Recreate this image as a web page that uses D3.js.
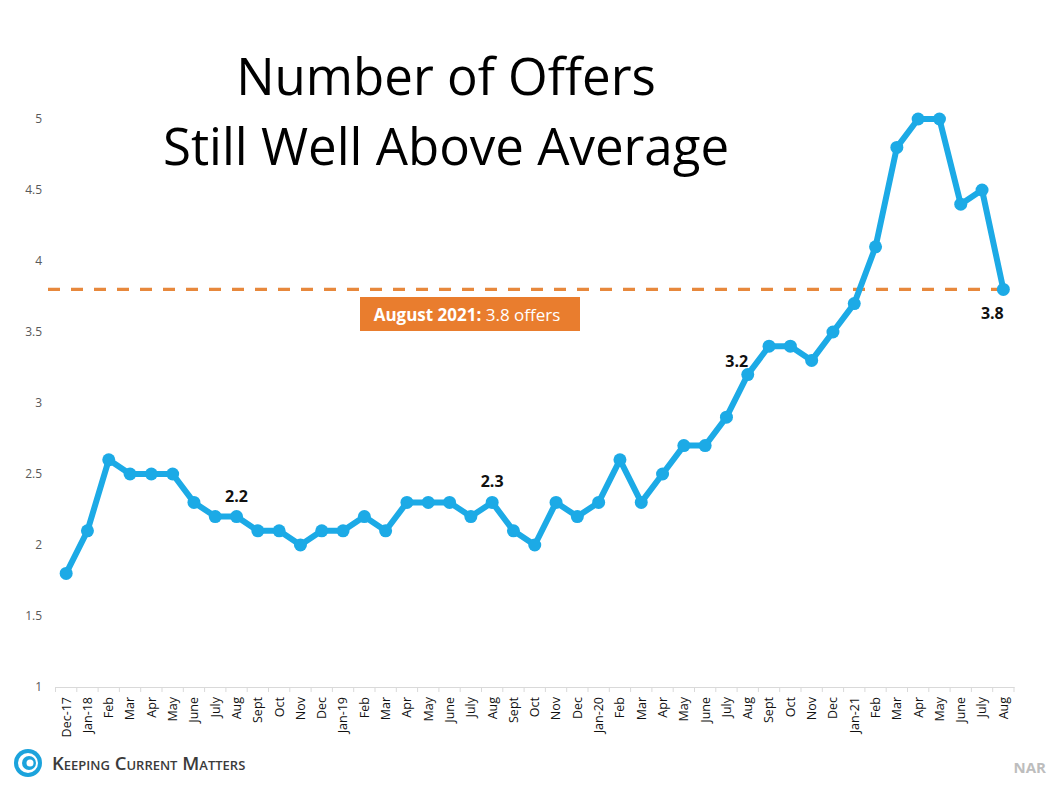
<!DOCTYPE html>
<html>
<head>
<meta charset="utf-8">
<script src="https://cdn.jsdelivr.net/npm/d3@7"></script>
<style>
  body{margin:0;background:#fff;}
  svg{display:block;}
</style>
</head>
<body>
<script>
// months, Dec 2017 through Aug 2021
const months=["Dec-17","Jan-18","Feb","Mar","Apr","May","June","July","Aug","Sept","Oct","Nov","Dec",
  "Jan-19","Feb","Mar","Apr","May","June","July","Aug","Sept","Oct","Nov","Dec",
  "Jan-20","Feb","Mar","Apr","May","June","July","Aug","Sept","Oct","Nov","Dec",
  "Jan-21","Feb","Mar","Apr","May","June","July","Aug"];
const offers=[1.8,2.1,2.6,2.5,2.5,2.5,2.3,2.2,2.2,2.1,2.1,2.0,2.1,
  2.1,2.2,2.1,2.3,2.3,2.3,2.2,2.3,2.1,2.0,2.3,2.2,
  2.3,2.6,2.3,2.5,2.7,2.7,2.9,3.2,3.4,3.4,3.3,3.5,
  3.7,4.1,4.8,5.0,5.0,4.4,4.5,3.8];
const yTicks=[1,1.5,2,2.5,3,3.5,4,4.5,5];
const labelled=[8,20,32,44];   // points that carry a value label
const currentValue=3.8;

const W=1057,H=792;
const svg=d3.select('body').append('svg').attr('width',W).attr('height',H);

const x=d3.scaleBand().domain(d3.range(months.length)).range([55.5,1014]);
const y=d3.scaleLinear().domain([1,5]).range([687,119]);
const cx=i=>x(i)+x.bandwidth()/2;

// title
const title=svg.append('text').attr('x',446).attr('text-anchor','middle')
  .style('font-family','"Open Sans", sans-serif').style('font-size','51px')
  .attr('font-weight',500).attr('fill','#000');
title.append('tspan').attr('x',446).attr('y',95).text('Number of Offers');
title.append('tspan').attr('x',446).attr('y',165).text('Still Well Above Average');

// y axis labels
svg.selectAll('.ytick').data(yTicks).enter().append('text')
  .attr('class','ytick')
  .attr('x',42).attr('y',d=>y(d)+4)
  .attr('text-anchor','end')
  .style('font-family','"Open Sans", sans-serif').style('font-size','12px')
  .attr('fill','#595959')
  .text(d=>d);

// x axis
const xAxis=svg.append('g').attr('transform','translate(0,'+y(1)+')')
  .call(d3.axisBottom(x).tickSize(0).tickFormat(i=>months[i]));
xAxis.select('.domain').attr('stroke','#d9d9d9');
xAxis.selectAll('text')
  .attr('transform','rotate(-90)')
  .attr('text-anchor','end')
  .attr('x',-10).attr('y',0).attr('dy','0.35em')
  .style('font-family','"Open Sans", sans-serif').style('font-size','12.5px')
  .attr('fill','#111');
svg.append('g').selectAll('line').data(d3.range(months.length+1)).enter().append('line')
  .attr('x1',i=>i<months.length?x(i):x(i-1)+x.bandwidth())
  .attr('x2',i=>i<months.length?x(i):x(i-1)+x.bandwidth())
  .attr('y1',y(1)).attr('y2',y(1)+5)
  .attr('stroke','#d9d9d9');

// current value reference line
svg.append('line')
  .attr('x1',48).attr('x2',cx(months.length-1))
  .attr('y1',y(currentValue)).attr('y2',y(currentValue))
  .attr('stroke','#E7883C').attr('stroke-width',3.2)
  .attr('stroke-dasharray','12,11');

svg.append('rect').attr('x',360).attr('y',297).attr('width',220).attr('height',34).attr('fill','#E97D2E');
const badge=svg.append('text').attr('x',467).attr('y',320.5).attr('text-anchor','middle')
  .style('font-family','"Open Sans", sans-serif').style('font-size','17px').attr('fill','#fff');
badge.append('tspan').attr('font-weight','bold').text('August 2021:');
badge.append('tspan').text(' 3.8 offers');

// line + dots
const line=d3.line().x((d,i)=>cx(i)).y(d=>y(d));
svg.append('path').datum(offers)
  .attr('d',line)
  .attr('fill','none').attr('stroke','#1CAAE6').attr('stroke-width',6)
  .attr('stroke-linejoin','round');
svg.selectAll('.dot').data(offers).enter().append('circle')
  .attr('class','dot')
  .attr('cx',(d,i)=>cx(i)).attr('cy',d=>y(d)).attr('r',6.5)
  .attr('fill','#1CAAE6');

// value labels
const labelDx={8:0,20:0,32:-11,44:-11};
const labelDy={8:-15,20:-15,32:-8,44:30};
svg.selectAll('.vlabel').data(labelled).enter().append('text')
  .attr('class','vlabel')
  .attr('x',i=>cx(i)+labelDx[i])
  .attr('y',i=>y(offers[i])+labelDy[i])
  .attr('text-anchor','middle')
  .style('font-family','"Open Sans", sans-serif').style('font-size','16px').attr('font-weight','bold')
  .attr('fill','#111')
  .text(i=>offers[i].toFixed(1));

// footer: logo + source
const logo=svg.append('g').attr('transform','translate(28,763)');
logo.append('circle').attr('r',14).attr('fill','#1BA3DC');
logo.append('circle').attr('r',10).attr('fill','#fff');
logo.append('circle').attr('r',7).attr('cx',1).attr('fill','#1BA3DC');
logo.append('circle').attr('r',3.5).attr('cx',2).attr('fill','#fff');
svg.append('text').attr('x',52).attr('y',770)
  .style('font-family','"Open Sans", sans-serif').style('font-size','18.5px').style('font-variant','small-caps')
  .attr('font-weight','600').attr('fill','#3b3b3b')
  .text('Keeping Current Matters');
svg.append('text').attr('x',1046).attr('y',773).attr('text-anchor','end')
  .style('font-family','"Open Sans", sans-serif').style('font-size','15px').attr('font-weight','bold')
  .attr('fill','#bdbdbd').text('NAR');
</script>
</body>
</html>
